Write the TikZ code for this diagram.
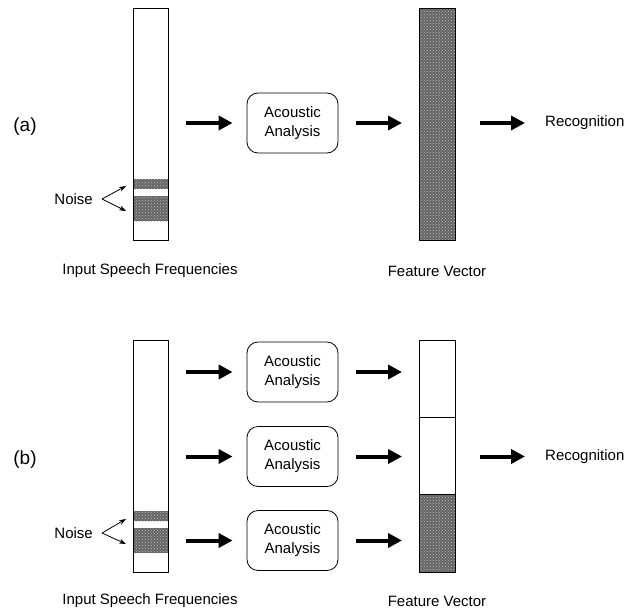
\documentclass[tikz,border=0pt]{standalone}
\usepackage{fontspec}
\setmainfont{Liberation Sans}
\usetikzlibrary{arrows.meta,patterns}
\definecolor{hatchgray}{RGB}{100,100,100}
\tikzset{
  lbl/.style={font=\fontsize{15}{19}\selectfont, inner sep=0pt},
  partlbl/.style={font=\fontsize{19}{23}\selectfont, inner sep=0pt},
  barbox/.style={draw, line width=0.8pt, anchor=north west, inner sep=0pt, minimum width=35pt},
  noiseband/.style={fill=hatchgray, postaction={pattern=crosshatch dots, pattern color=gray!50}},
  aabox/.style={draw, line width=0.8pt, rounded corners=11pt, minimum width=91pt, minimum height=60pt,
                align=center, font=\fontsize{15}{19}\selectfont, inner sep=0pt},
  bigarrow/.style={line width=4pt, -{Triangle[length=14pt,width=14pt]}},
  smallarrow/.style={line width=0.8pt, -{Stealth[length=7pt,width=5pt]}}
}
\begin{document}
\begin{tikzpicture}[x=1pt,y=-1pt]
\useasboundingbox (0,0) rectangle (636,613);

% ================= (a) =================
\node[partlbl] (la) at (25,127) {(a)};
% input bar
\node[barbox, minimum height=232pt] (inA) at (133,8) {};
\fill[noiseband] (133,179) rectangle (168,189);
\fill[noiseband] (133,196) rectangle (168,221);
\draw[line width=0.8pt] (inA.north west) rectangle (inA.south east);
\node[lbl, anchor=east] (noiseA) at (93,199) {Noise};
\coordinate (nA) at (102,199);
\coordinate (nA1) at (126,186);
\coordinate (nA2) at (126,211);
\draw[smallarrow] (nA) -- (nA1);
\draw[smallarrow] (nA) -- (nA2);
\node[lbl] (inAlab) at (150,271) {Input Speech Frequencies};

\node[aabox] (aaA) at (292.5,123) {Acoustic\\Analysis};
% feature bar
\node[barbox, minimum width=36pt, minimum height=232pt, noiseband] (fvA) at (419,8) {};
\draw[line width=0.8pt] (fvA.north west) rectangle (fvA.south east);
\node[lbl] (fvAlab) at (437,271) {Feature Vector};
\node[lbl, anchor=west] (recA) at (545,123) {Recognition};

\coordinate (a1s) at (186,123);
\coordinate (a2e) at (402,123);
\draw[bigarrow] (a1s) -- ([xshift=-14pt]aaA.west);
\draw[bigarrow] ([xshift=18pt]aaA.east) -- (a2e);
\draw[bigarrow] ([xshift=24pt]fvA.east |- recA.west) -- ([xshift=-20pt]recA.west);

% ================= (b) =================
\node[partlbl] (lb) at (25,460) {(b)};
\node[barbox, minimum height=232pt] (inB) at (133,340) {};
\fill[noiseband] (133,511) rectangle (168,521);
\fill[noiseband] (133,528) rectangle (168,553);
\draw[line width=0.8pt] (inB.north west) rectangle (inB.south east);
\node[lbl, anchor=east] (noiseB) at (93,533) {Noise};
\coordinate (nB) at (102,533);
\coordinate (nB1) at (126,519);
\coordinate (nB2) at (126,544);
\draw[smallarrow] (nB) -- (nB1);
\draw[smallarrow] (nB) -- (nB2);
\node[lbl] (inBlab) at (150,601) {Input Speech Frequencies};

\node[aabox] (aaB1) at (292.5,372) {Acoustic\\Analysis};
\node[aabox] (aaB2) at (292.5,456.5) {Acoustic\\Analysis};
\node[aabox] (aaB3) at (292.5,540.5) {Acoustic\\Analysis};

% feature vector (b)
\node[barbox, minimum width=36pt, minimum height=77pt] (fvB1) at (419,340) {};
\node[barbox, minimum width=36pt, minimum height=77pt] (fvB2) at (419,417) {};
\node[barbox, minimum width=36pt, minimum height=78pt, noiseband] (fvB3) at (419,494) {};
\draw[line width=0.8pt] (fvB3.north west) rectangle (fvB3.south east);
\node[lbl] (fvBlab) at (437,601) {Feature Vector};
\node[lbl, anchor=west] (recB) at (545,456.5) {Recognition};

\foreach \b/\y in {aaB1/372,aaB2/456.5,aaB3/540.5}{
  \draw[bigarrow] (186,\y) -- ([xshift=-14pt]\b.west);
  \draw[bigarrow] ([xshift=18pt]\b.east) -- (402,\y);
}
\draw[bigarrow] ([xshift=24pt]fvB2.east |- recB.west) -- ([xshift=-20pt]recB.west);
\end{tikzpicture}
\end{document}
